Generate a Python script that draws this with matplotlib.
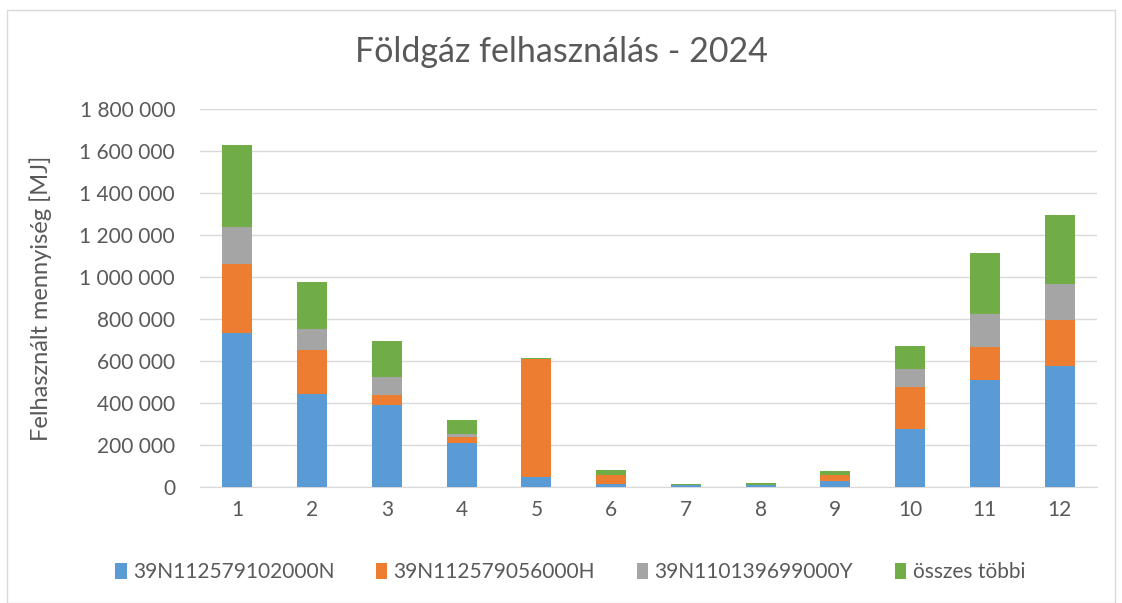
import numpy as np
import matplotlib
matplotlib.use("Agg")
import matplotlib.pyplot as plt
from matplotlib.ticker import FuncFormatter
from matplotlib.patches import Rectangle

plt.rcParams['font.family'] = ['Lato', 'DejaVu Sans']

months = [1, 2, 3, 4, 5, 6, 7, 8, 9, 10, 11, 12]
s_a = [732000, 444000, 390000, 208000, 48000, 12000, 8000, 8000, 29000, 278000, 509000, 576000]
s_b = [330000, 207000, 48000, 32000, 560000, 44000, 1000, 2000, 28000, 196000, 158000, 221000]
s_c = [175000, 100000, 84000, 11000, 2000, 3000, 1000, 1000, 2000, 88000, 158000, 172000]
s_d = [392000, 224000, 172000, 67000, 6000, 21000, 5000, 7000, 19000, 111000, 289000, 325000]
names = ["39N112579102000N", "39N112579056000H", "39N110139699000Y", "összes többi"]
colors = ["#5B9BD5", "#ED7D31", "#A5A5A5", "#70AD47"]
TXT = "#595959"

fig = plt.figure(figsize=(11.22, 6.03), dpi=100)
fig.patches.append(Rectangle((7 / 1122, 0), 1 - 14 / 1122, 1 - 10 / 603, transform=fig.transFigure,
                             fill=False, edgecolor="#D9D9D9", lw=1))
ax = fig.add_axes([200 / 1122, 1 - 487 / 603, 897 / 1122, 378 / 603])

x = np.arange(len(months))
bottom = np.zeros(len(months))
for vals, name, c in zip([s_a, s_b, s_c, s_d], names, colors):
    ax.bar(x, vals, width=0.4, bottom=bottom, color=c, label=name, zorder=3)
    bottom += np.array(vals)

ax.set_xlim(-0.5, len(months) - 0.5)
ax.set_ylim(0, 1800000)
ax.set_yticks(np.arange(0, 1800001, 200000))
ax.yaxis.set_major_formatter(FuncFormatter(lambda v, p: f"{int(v):,}".replace(",", " ")))
ax.set_xticks(x)
ax.set_xticklabels([str(m) for m in months])
ax.grid(axis="y", color="#D9D9D9", lw=1, zorder=0)
for s in ["top", "right", "left"]:
    ax.spines[s].set_visible(False)
ax.spines["bottom"].set_color("#D9D9D9")
ax.tick_params(axis="both", length=0, labelsize=15, colors=TXT)
ax.tick_params(axis="y", pad=18)
ax.tick_params(axis="x", pad=9)

ax.set_ylabel("Felhasznált mennyiség [MJ]", fontsize=17, color=TXT, labelpad=20)
fig.text(0.5, 1 - 52 / 603, "Földgáz felhasználás - 2024", ha="center", va="center",
         fontsize=24.5, color=TXT)

leg = fig.legend(loc="center", bbox_to_anchor=(0.508, 1 - 572 / 603), ncol=4, frameon=False,
                 fontsize=15, handlelength=0.55, handleheight=0.8, handletextpad=0.3,
                 columnspacing=2.0)
for t in leg.get_texts():
    t.set_color(TXT)

plt.savefig("out.png", dpi=100)
